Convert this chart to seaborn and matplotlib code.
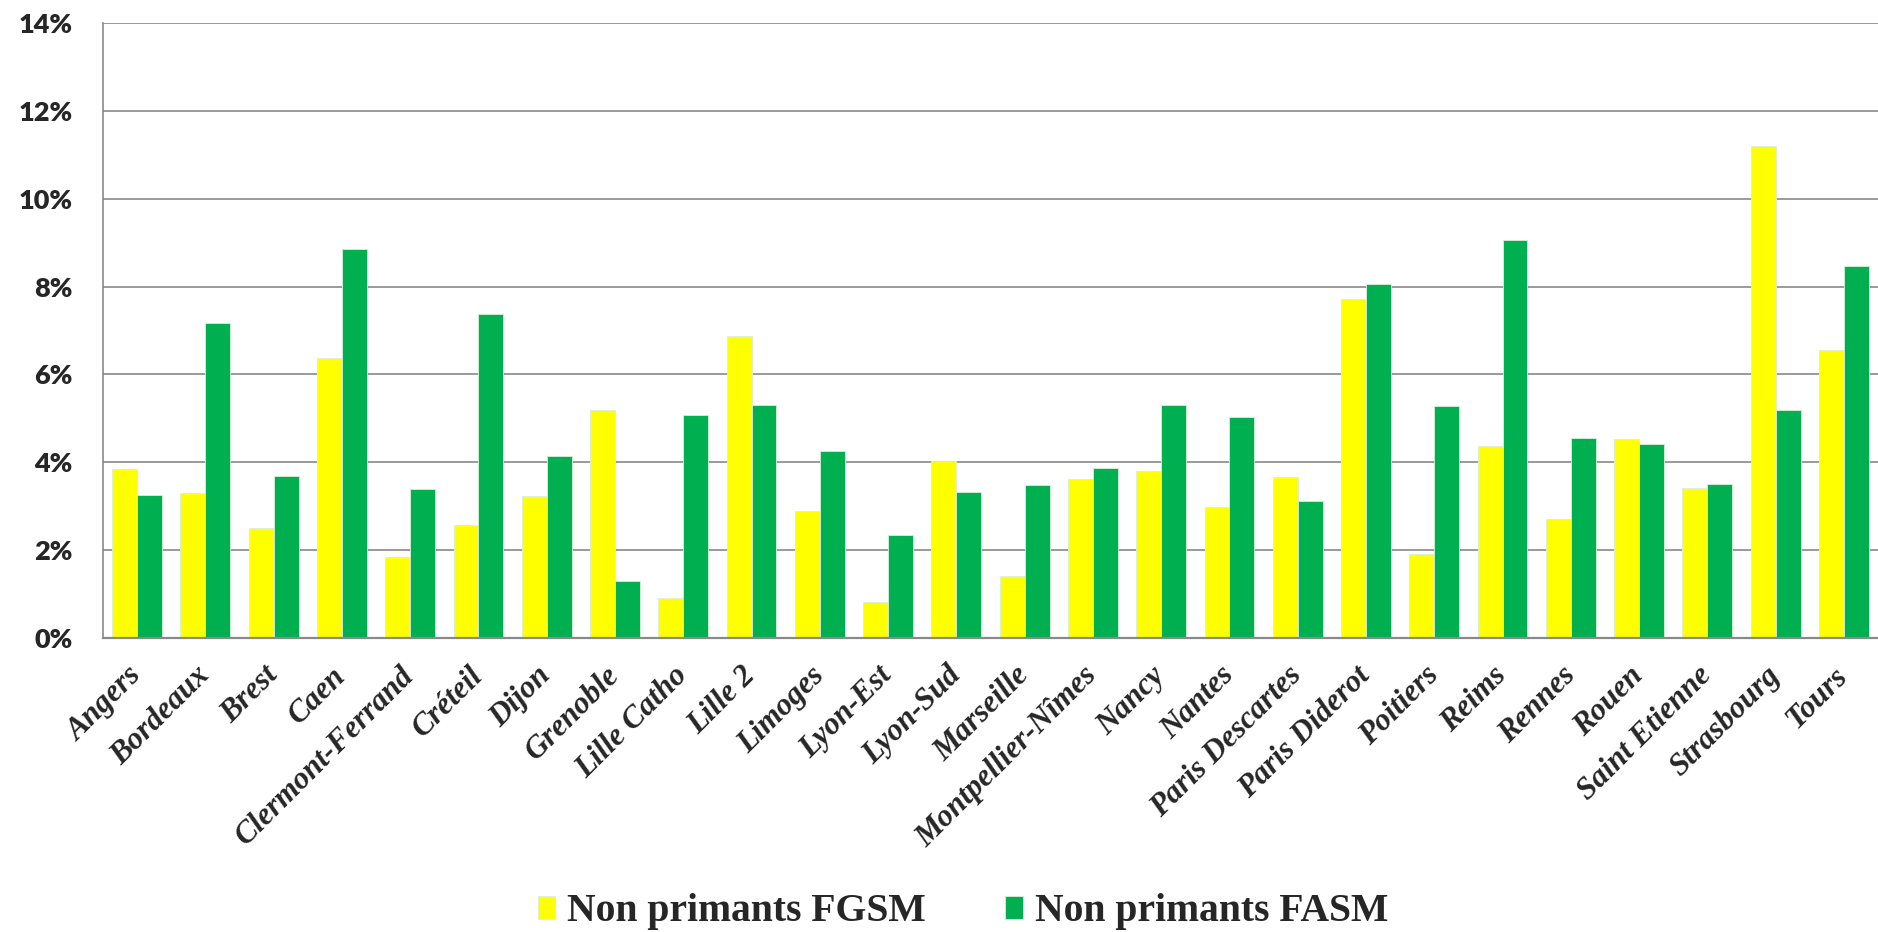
import matplotlib
matplotlib.use("Agg")
import matplotlib.pyplot as plt
import pandas as pd
import seaborn as sns

facultes = ["Angers", "Bordeaux", "Brest", "Caen", "Clermont-Ferrand", "Créteil",
            "Dijon", "Grenoble", "Lille Catho", "Lille 2", "Limoges", "Lyon-Est",
            "Lyon-Sud", "Marseille", "Montpellier-Nîmes", "Nancy", "Nantes",
            "Paris Descartes", "Paris Diderot", "Poitiers", "Reims", "Rennes",
            "Rouen", "Saint Etienne", "Strasbourg", "Tours"]

# taux en %
fgsm = [3.84, 3.29, 2.50, 6.37, 1.85, 2.58, 3.24, 5.18, 0.92, 6.88, 2.88, 0.82,
        4.02, 1.42, 3.62, 3.80, 2.98, 3.67, 7.71, 1.91, 4.37, 2.71, 4.53, 3.42,
        11.20, 6.56]
fasm = [3.25, 7.18, 3.69, 8.85, 3.39, 7.37, 4.15, 1.30, 5.07, 5.30, 4.26, 2.34,
        3.33, 3.48, 3.87, 5.30, 5.04, 3.11, 8.05, 5.29, 9.07, 4.56, 4.42, 3.51,
        5.20, 8.46]

series = ["Non primants FGSM", "Non primants FASM"]
couleurs = ["#FFFF00", "#00B050"]
yticks = [0, 2, 4, 6, 8, 10, 12, 14]

df = pd.DataFrame({"Faculte": facultes, series[0]: fgsm, series[1]: fasm})
df = df.melt(id_vars="Faculte", var_name="Serie", value_name="Taux")

sns.set_theme(style="white")

W, H = 1878, 932
fig = plt.figure(figsize=(W / 100, H / 100), dpi=100)
ax = fig.add_axes([103 / W, 1 - 638 / H, 1 - 103 / W, (638 - 23) / H])

sns.barplot(data=df, x="Faculte", y="Taux", hue="Serie", palette=couleurs,
            saturation=1, width=0.73, errorbar=None, ax=ax,
            edgecolor="#d8efd8", linewidth=0.6)

ax.set_ylim(0, 14)
ax.set_yticks(yticks)
ax.set_yticklabels([f"{v}%" for v in yticks], fontfamily="Lato",
                   fontweight="heavy", fontsize=19.5)
ax.set_xticks(range(len(facultes)))
ax.set_xticklabels(facultes, rotation=45, ha="right", va="center",
                   rotation_mode="anchor", fontfamily="Liberation Serif",
                   fontweight="bold", fontstyle="italic", fontsize=22.5)
ax.tick_params(axis="x", length=0, pad=24)
ax.tick_params(axis="y", length=0, pad=22)
ax.set_xlabel("")
ax.set_ylabel("")

ax.yaxis.grid(True, color="#898989", linewidth=1.2)
ax.set_axisbelow(True)
for s in ["top", "right"]:
    ax.spines[s].set_visible(False)
ax.spines["left"].set_color("#898989")
ax.spines["left"].set_linewidth(1.2)
ax.spines["bottom"].set_color("#898989")
ax.spines["bottom"].set_linewidth(1.6)

handles, labels = ax.get_legend_handles_labels()
ax.legend_.remove()
fig.legend(handles, labels, loc="center", bbox_to_anchor=(963 / W, 1 - 912 / H),
           ncol=2, frameon=False,
           prop=dict(family="Liberation Serif", weight="bold", size=28.5),
           handlelength=0.44, handleheight=0.54, handletextpad=0.3,
           columnspacing=2.0)

fig.savefig("out.png", dpi=100)
